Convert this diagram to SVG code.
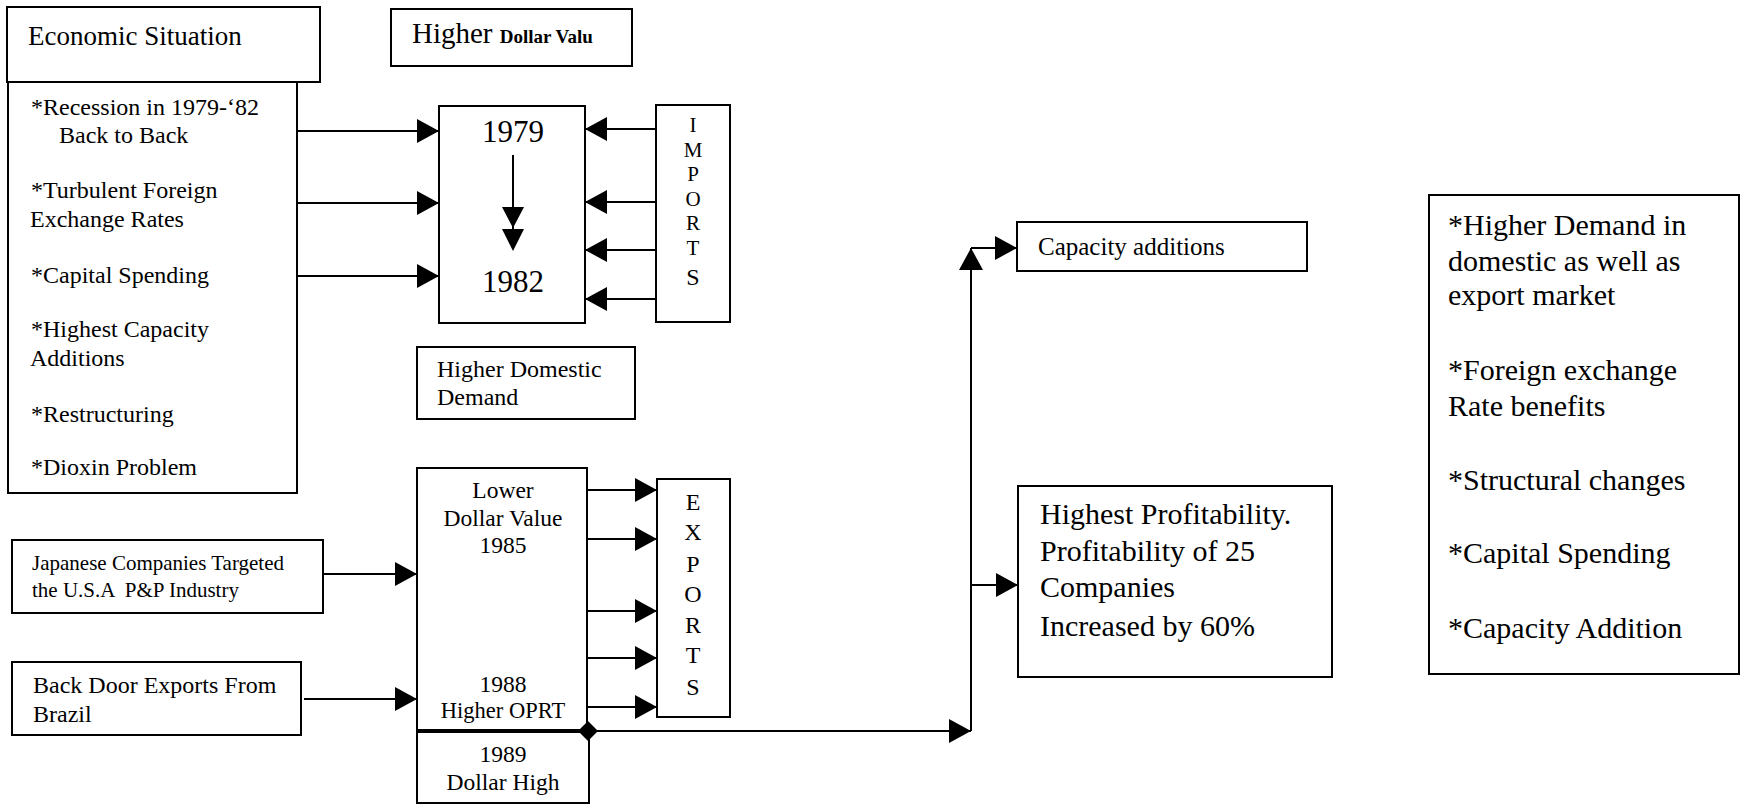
<svg xmlns="http://www.w3.org/2000/svg" width="1749" height="804" viewBox="0 0 1749 804">
<style>
rect.box{fill:#fff;stroke:#000;stroke-width:2}
text{font-family:"Liberation Serif","Times New Roman",serif;fill:#000}
.c line,.c path{stroke:#000;stroke-width:2;fill:none}
.mid{text-anchor:middle}
</style>
<defs>
<marker id="ah" markerUnits="userSpaceOnUse" markerWidth="22" markerHeight="24" refX="22" refY="12" orient="auto">
<path d="M0,0 L22,12 L0,24 z" fill="#000"/>
</marker>
</defs>
<rect width="1749" height="804" fill="#fff"/>

<g id="economic-situation">
<rect class="box" x="7" y="7" width="313" height="75"/>
<text x="28" y="45" font-size="27">Economic Situation</text>
<rect class="box" x="8" y="82" width="289" height="411"/>
<g font-size="24">
<text x="31" y="115">*Recession in 1979-‘82</text>
<text x="59" y="143">Back to Back</text>
<text x="31" y="198">*Turbulent Foreign</text>
<text x="30" y="227">Exchange Rates</text>
<text x="31" y="283">*Capital Spending</text>
<text x="31" y="337">*Highest Capacity</text>
<text x="30" y="366">Additions</text>
<text x="31" y="422">*Restructuring</text>
<text x="31" y="475">*Dioxin Problem</text>
</g>
</g>

<g id="higher-dollar">
<rect class="box" x="391" y="9" width="241" height="57"/>
<text x="412" y="43" font-size="29">Higher <tspan font-size="19" font-weight="bold">Dollar Valu</tspan></text>
</g>

<g id="period-1979-1982">
<rect class="box" x="439" y="106" width="146" height="217"/>
<text class="mid" x="513" y="142" font-size="31">1979</text>
<text class="mid" x="513" y="292" font-size="31">1982</text>
<line x1="513" y1="155" x2="513" y2="230" stroke="#000" stroke-width="2"/>
<path d="M502,207 L524,207 L513,228 z M502,229 L524,229 L513,251 z" fill="#000"/>
</g>

<g id="imports">
<rect class="box" x="656" y="105" width="74" height="217"/>
<g font-size="21" class="mid">
<text x="693" y="132">I</text>
<text x="693" y="157">M</text>
<text x="693" y="181">P</text>
<text x="693" y="206">O</text>
<text x="693" y="230">R</text>
<text x="693" y="255">T</text>
<text x="693" y="285" font-size="24">S</text>
</g>
</g>

<g id="higher-domestic-demand">
<rect class="box" x="417" y="347" width="218" height="72"/>
<text x="437" y="377" font-size="24">Higher Domestic</text>
<text x="437" y="405" font-size="24">Demand</text>
</g>

<g id="lower-dollar-value">
<rect class="box" x="417" y="468" width="170" height="264"/>
<g font-size="23.5" class="mid">
<text x="503" y="498">Lower</text>
<text x="503" y="526">Dollar Value</text>
<text x="503" y="553">1985</text>
<text x="503" y="692">1988</text>
<text x="503" y="718" font-size="22.5">Higher OPRT</text>
</g>
</g>

<g id="dollar-high-1989">
<rect class="box" x="417" y="732" width="172" height="71"/>
<text class="mid" x="503" y="762" font-size="23.5">1989</text>
<text class="mid" x="503" y="790" font-size="23.5">Dollar High</text>
</g>

<g id="exports">
<rect class="box" x="657" y="479" width="73" height="238"/>
<g font-size="24" class="mid">
<text x="693" y="510">E</text>
<text x="693" y="540">X</text>
<text x="693" y="572">P</text>
<text x="693" y="602">O</text>
<text x="693" y="633">R</text>
<text x="693" y="663">T</text>
<text x="693" y="695">S</text>
</g>
</g>

<g id="japanese-companies">
<rect class="box" x="12" y="540" width="311" height="73"/>
<text x="32" y="570" font-size="21">Japanese Companies Targeted</text>
<text x="32" y="597" font-size="21">the U.S.A &#160;P&amp;P Industry</text>
</g>

<g id="back-door-exports">
<rect class="box" x="12" y="662" width="289" height="73"/>
<text x="33" y="693" font-size="24">Back Door Exports From</text>
<text x="33" y="722" font-size="24">Brazil</text>
</g>

<g id="capacity-additions">
<rect class="box" x="1017" y="222" width="290" height="49"/>
<text x="1038" y="255" font-size="25">Capacity additions</text>
</g>

<g id="highest-profitability">
<rect class="box" x="1018" y="486" width="314" height="191"/>
<g font-size="30">
<text x="1040" y="524">Highest Profitability.</text>
<text x="1040" y="561">Profitability of 25</text>
<text x="1040" y="597">Companies</text>
<text x="1040" y="636">Increased by 60%</text>
</g>
</g>

<g id="summary">
<rect class="box" x="1429" y="195" width="310" height="479"/>
<g font-size="30">
<text x="1448" y="235">*Higher Demand in</text>
<text x="1448" y="271">domestic as well as</text>
<text x="1448" y="305">export market</text>
<text x="1448" y="380">*Foreign exchange</text>
<text x="1448" y="416">Rate benefits</text>
<text x="1448" y="490">*Structural changes</text>
<text x="1448" y="563">*Capital Spending</text>
<text x="1448" y="638">*Capacity Addition</text>
</g>
</g>

<g id="connectors" class="c">
<line x1="297" y1="131" x2="439" y2="131" marker-end="url(#ah)"/>
<line x1="297" y1="203" x2="439" y2="203" marker-end="url(#ah)"/>
<line x1="297" y1="276" x2="439" y2="276" marker-end="url(#ah)"/>
<line x1="656" y1="129" x2="585" y2="129" marker-end="url(#ah)"/>
<line x1="656" y1="202" x2="585" y2="202" marker-end="url(#ah)"/>
<line x1="656" y1="250" x2="585" y2="250" marker-end="url(#ah)"/>
<line x1="656" y1="299" x2="585" y2="299" marker-end="url(#ah)"/>
<line x1="587" y1="490" x2="657" y2="490" marker-end="url(#ah)"/>
<line x1="587" y1="539" x2="657" y2="539" marker-end="url(#ah)"/>
<line x1="587" y1="611" x2="657" y2="611" marker-end="url(#ah)"/>
<line x1="587" y1="658" x2="657" y2="658" marker-end="url(#ah)"/>
<line x1="587" y1="707" x2="657" y2="707" marker-end="url(#ah)"/>
<line x1="323" y1="574" x2="417" y2="574" marker-end="url(#ah)"/>
<line x1="304" y1="699" x2="417" y2="699" marker-end="url(#ah)"/>
<line x1="417" y1="731" x2="588" y2="731" style="stroke-width:4"/>
<line x1="588" y1="731" x2="971" y2="731" marker-end="url(#ah)"/>
<path d="M588,721 L598,731 L588,741 L578,731 z" style="fill:#000;stroke:none"/>
<line x1="971" y1="731" x2="971" y2="248" marker-end="url(#ah)"/>
<line x1="971" y1="248" x2="1017" y2="248" marker-end="url(#ah)"/>
<line x1="971" y1="585" x2="1018" y2="585" marker-end="url(#ah)"/>
</g>
</svg>
